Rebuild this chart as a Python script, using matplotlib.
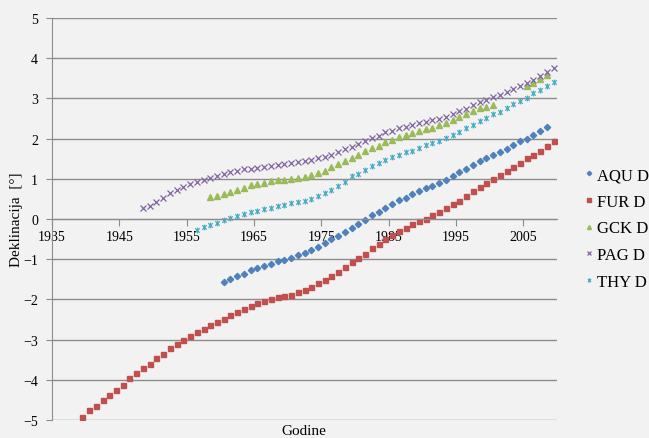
import numpy as np
import matplotlib
matplotlib.use('Agg')
import matplotlib.pyplot as plt
from matplotlib.path import Path

plt.rcParams['font.family'] = ['Liberation Serif', 'DejaVu Serif']

####################################################################################
# DATA  (yearly declination values, plotted at mid-year)
####################################################################################

aqu_years = np.arange(1960.5, 2009, 1.0)
aqu_d = [-1.57, -1.49, -1.43, -1.36, -1.28,
         -1.22, -1.18, -1.11, -1.05, -1.02, -0.97, -0.90, -0.84, -0.77, -0.69,
         -0.60, -0.50, -0.43, -0.32, -0.22, -0.12, -0.02, 0.09, 0.17, 0.27,
         0.38, 0.47, 0.53, 0.61, 0.69, 0.76, 0.83, 0.90, 0.98, 1.06,
         1.16, 1.24, 1.34, 1.44, 1.52, 1.58, 1.67, 1.74, 1.85, 1.93,
         2.00, 2.08, 2.20, 2.29]

fur_years = np.arange(1939.5, 2010, 1.0)
fur_d = [-4.92, -4.76, -4.64, -4.50, -4.38, -4.25, -4.12, -3.96, -3.84, -3.71,
         -3.61, -3.47, -3.35, -3.22, -3.12, -3.01, -2.91, -2.81, -2.74, -2.63,
         -2.55, -2.48, -2.40, -2.32, -2.25, -2.17, -2.09, -2.04, -2.00, -1.95,
         -1.91, -1.88, -1.82, -1.76, -1.68, -1.60, -1.52, -1.42, -1.32, -1.19,
         -1.07, -0.96, -0.86, -0.73, -0.61, -0.50, -0.40, -0.30, -0.22, -0.12,
         -0.04, 0.01, 0.11, 0.17, 0.27, 0.37, 0.46, 0.58, 0.69, 0.79,
         0.89, 1.00, 1.09, 1.19, 1.30, 1.40, 1.51, 1.58, 1.68, 1.81,
         1.95]

gck_years = np.arange(1958.5, 2009, 1.0)
gck_d = [0.54, 0.58, 0.63, 0.67, 0.73, 0.78, 0.85, 0.87, 0.90, 0.95,
         0.96, 0.97, 1.00, 1.01, 1.04, 1.09, 1.14, 1.20, 1.29, 1.36,
         1.44, 1.52, 1.59, 1.68, 1.76, 1.82, 1.92, 1.97, 2.03, 2.09,
         2.14, 2.18, 2.23, 2.26, 2.33, 2.39, 2.46, 2.54, 2.60, 2.69,
         2.77, 2.79, 2.84, np.nan, np.nan, np.nan, np.nan, 3.32, 3.38, 3.48,
         3.58]

pag_years = np.arange(1948.5, 2010, 1.0)
pag_d = [0.27, 0.33, 0.43, 0.51, 0.64, 0.73, 0.80, 0.87, 0.93, 0.98,
         1.02, 1.08, 1.13, 1.16, 1.19, 1.24, 1.25, 1.28, 1.30, 1.33,
         1.34, 1.37, 1.39, 1.42, 1.44, 1.48, 1.52, 1.55, 1.60, 1.66,
         1.74, 1.79, 1.87, 1.94, 2.02, 2.07, 2.16, 2.20, 2.26, 2.28,
         2.34, 2.39, 2.42, 2.46, 2.49, 2.54, 2.60, 2.68, 2.74, 2.83,
         2.90, 2.95, 3.03, 3.08, 3.17, 3.23, 3.32, 3.38, 3.46, 3.55,
         3.65, 3.75]

thy_years = np.arange(1956.5, 2010, 1.0)
thy_d = [-0.28, -0.19, -0.14, -0.09, -0.02, 0.03, 0.08, 0.12, 0.17, 0.21,
         0.25, 0.28, 0.32, 0.36, 0.40, 0.42, 0.44, 0.50, 0.56, 0.64,
         0.71, 0.82, 0.93, 1.07, 1.13, 1.23, 1.31, 1.39, 1.47, 1.54,
         1.59, 1.66, 1.68, 1.77, 1.85, 1.88, 1.94, 2.01, 2.08, 2.16,
         2.26, 2.34, 2.44, 2.51, 2.60, 2.67, 2.75, 2.85, 2.93, 3.00,
         3.13, 3.21, 3.31, 3.42]

x_ticks = [1935, 1945, 1955, 1965, 1975, 1985, 1995, 2005]
y_ticks = [-5, -4, -3, -2, -1, 0, 1, 2, 3, 4, 5]

####################################################################################
# PLOT
####################################################################################

# excel "star" marker: an x with a vertical bar through it
star = Path([(-1, -1), (1, 1), (-1, 1), (1, -1), (0, -1.3), (0, 1.3)],
            [Path.MOVETO, Path.LINETO, Path.MOVETO, Path.LINETO, Path.MOVETO, Path.LINETO])

bg = '#f2f2f2'
fig = plt.figure(figsize=(6.49, 4.39), dpi=100, facecolor=bg)
ax = fig.add_axes([52 / 649, 18 / 439, 505 / 649, 402 / 439])
ax.set_facecolor(bg)

ax.plot(aqu_years, aqu_d, ls='none', marker='D', ms=3.2, color='#4f81bd', label='AQU D')
ax.plot(fur_years, fur_d, ls='none', marker='s', ms=3.6, color='#c0504d', label='FUR D')
ax.plot(gck_years, gck_d, ls='none', marker='^', ms=4.2, color='#9bbb59', label='GCK D')
ax.plot(pag_years, pag_d, ls='none', marker='x', ms=4.4, mew=0.9, color='#8064a2', label='PAG D')
ax.plot(thy_years, thy_d, ls='none', marker=star, ms=4.2, mew=0.9, color='#4bacc6', label='THY D')

ax.set_xlim(1935, 2010)
ax.set_ylim(-5, 5)
ax.set_xticks(x_ticks)
ax.set_yticks(y_ticks)

grid_c = '#8c8c8c'
ax.grid(axis='y', color=grid_c, lw=1.0)
ax.set_axisbelow(True)
ax.spines['top'].set_visible(False)
ax.spines['right'].set_visible(False)
ax.spines['bottom'].set_position(('data', 0))
ax.spines['bottom'].set_color(grid_c)
ax.spines['left'].set_color(grid_c)
ax.tick_params(axis='x', direction='out', length=5, color=grid_c, labelsize=10, pad=3)
ax.tick_params(axis='y', direction='out', length=4, color=grid_c, labelsize=10, pad=6)

ax.set_ylabel('Deklinacija  [°]', fontsize=11)
ax.yaxis.set_label_coords(-29 / 505, 0.5)
fig.text(304 / 649, 1 - 432 / 439, 'Godine', fontsize=11, ha='center', va='center')

leg = fig.legend(loc='center left', bbox_to_anchor=(584 / 649, 1 - 229.5 / 439),
                 frameon=False, fontsize=12, handlelength=0.6, handletextpad=0.2,
                 labelspacing=0.64, markerscale=0.7, borderaxespad=0, borderpad=0)

fig.savefig('out.png', dpi=100, facecolor=bg)
